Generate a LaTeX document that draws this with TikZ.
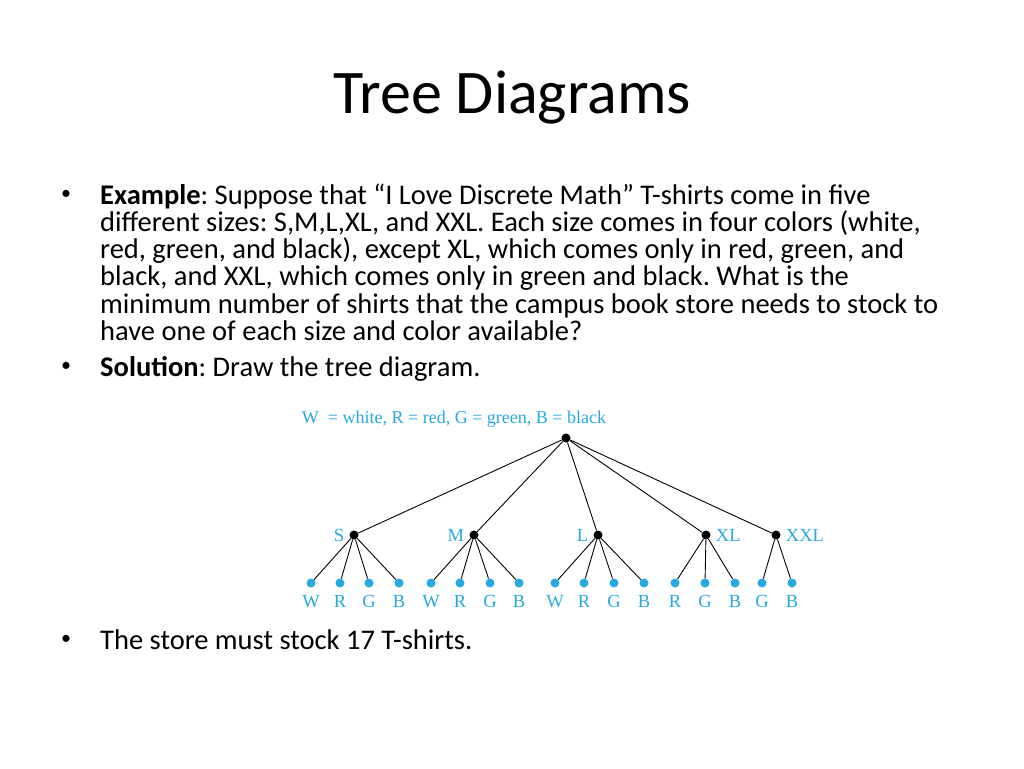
\documentclass[tikz,border=0pt]{standalone}
\usepackage{fontspec}
\usetikzlibrary{positioning}
\setmainfont{Carlito}
\newfontfamily\treefont{Liberation Serif}
\frenchspacing
\definecolor{treeblue}{RGB}{38,169,224}
\tikzset{
  inner/.style={circle,fill=black,inner sep=0pt,minimum size=9pt},
  leaf/.style={circle,fill=treeblue,inner sep=0pt,minimum size=9pt},
  lbl/.style={text=treeblue,font=\treefont\fontsize{18.5}{20}\selectfont,inner sep=0pt},
  body/.style={font=\fontsize{28.5}{27.3}\selectfont,inner sep=0pt,align=left,anchor=base west},
  bul/.style={font=\fontsize{20}{20}\selectfont,inner sep=0pt},
  edge/.style={line width=0.9pt}
}
\begin{document}
\begin{tikzpicture}[x=1pt,y=-1pt]
\useasboundingbox (0,0) rectangle (1024,768);
\node[font=\fontsize{62}{68}\selectfont] (title) at (512,97) {Tree Diagrams};
% bullets
\node[bul] (b1) at (66,195) {\textbullet};
\node[bul] (b2) at (66,367) {\textbullet};
\node[bul] (b3) at (66,640) {\textbullet};
\node[body] (example) at (100,340.5) {\textbf{Example}: Suppose that “I Love Discrete Math” T-shirts come in five\\
  different sizes: S,M,L,XL, and XXL. Each size comes in four colors (white,\\
  red, green, and black), except XL, which comes only in red, green, and\\
  black, and XXL, which comes only in green and black. What is the\\
  minimum number of shirts that the campus book store needs to stock to\\
  have one of each size and color available?};
\node[body] (solution) at (100,376) {\textbf{Solution}: Draw the tree diagram.};
\node[body] (answer) at (100,649) {The store must stock 17 T-shirts.};
% tree
\node[lbl,font=\treefont\fontsize{18}{20}\selectfont] (legend) at (454,419) {W\ \ = white, R = red, G = green, B = black};
\node[inner] (root) at (566,438) {};
\node[inner] (S) at (354,535) {};
\node[inner] (M) at (474,535) {};
\node[inner] (L) at (598,535) {};
\node[inner] (XL) at (706,535) {};
\node[inner] (XXL) at (776,535) {};
\node[lbl,left=5pt of S] {S};
\node[lbl,left=5pt of M] {M};
\node[lbl,left=5pt of L] {L};
\node[lbl,right=5pt of XL] {XL};
\node[lbl,right=5pt of XXL] {XXL};
\foreach \s in {S,M,L,XL,XXL}
  \draw[edge] (root) -- (\s);
\foreach \x/\c/\p [count=\i] in {311/W/S,340/R/S,369/G/S,399/B/S,
    431/W/M,460/R/M,490/G/M,519/B/M,
    555/W/L,584/R/L,614/G/L,644/B/L,
    675/R/XL,705/G/XL,735/B/XL,
    762/G/XXL,792/B/XXL}{
  \node[leaf] (leaf\i) at (\x,583) {};
  \node[lbl,anchor=base] (leaflbl\i) at (\x,607.5) {\c};
  \draw[edge] (\p) -- (leaf\i);
}
\end{tikzpicture}
\end{document}
